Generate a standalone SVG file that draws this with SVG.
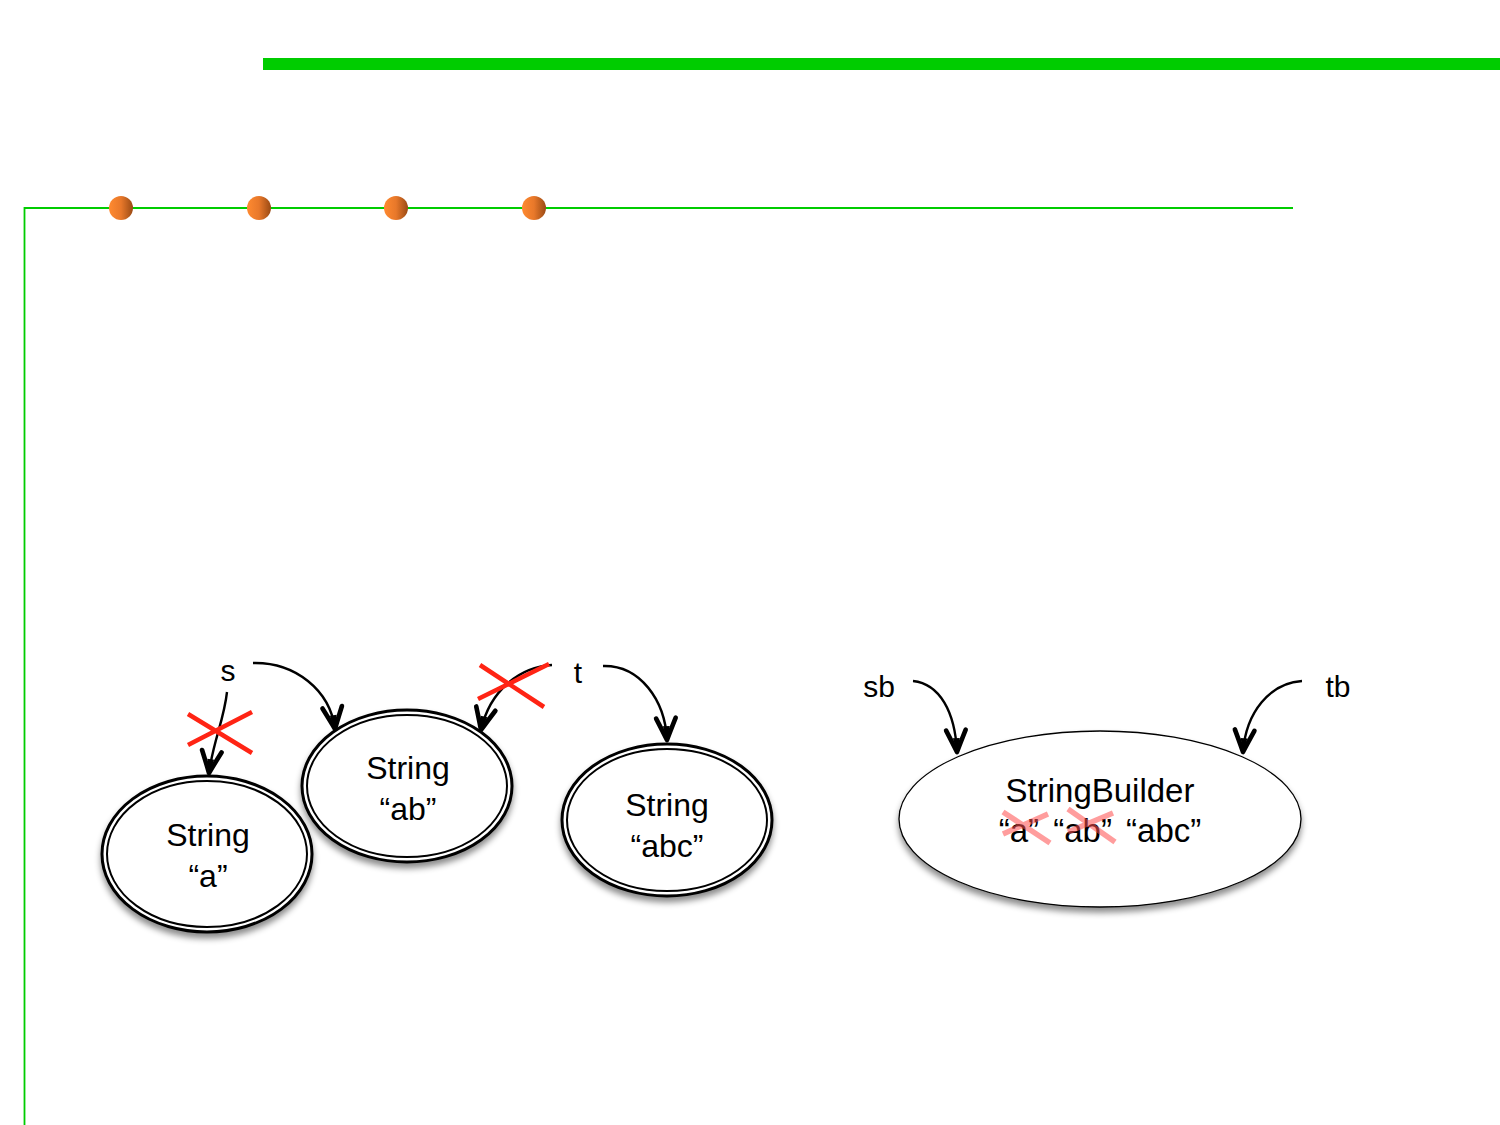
<svg xmlns="http://www.w3.org/2000/svg" width="1500" height="1125" viewBox="0 0 1500 1125">
<defs>
<style>
.t{font-family:"Liberation Sans",Arial,sans-serif;font-size:32px;fill:#000;text-anchor:middle}
.lbl{font-family:"Liberation Sans",Arial,sans-serif;font-size:30px;fill:#000;text-anchor:middle}
.edge{fill:none;stroke:#000;stroke-width:2.4;marker-end:url(#arr)}
.outer{fill:#fff;stroke:#000;stroke-width:3}
.inner{fill:none;stroke:#000;stroke-width:2}
.x{stroke:#ff2414;stroke-width:4.5;fill:none}
.xl{stroke:#ff4d4d;stroke-opacity:0.55;stroke-width:5.5;fill:none}
</style>
<linearGradient id="dot" x1="0" y1="0" x2="1" y2="0">
<stop offset="0" stop-color="#ff8a30"/>
<stop offset="0.5" stop-color="#e8782a"/>
<stop offset="1" stop-color="#9a4a14"/>
</linearGradient>
<filter id="sh" x="-20%" y="-20%" width="140%" height="150%">
<feDropShadow dx="0" dy="5" stdDeviation="3" flood-color="#000" flood-opacity="0.45"/>
</filter>
<marker id="arr" markerUnits="userSpaceOnUse" markerWidth="30" markerHeight="30" viewBox="-22 -12 26 24" refX="0" refY="0" orient="auto">
<path d="M -19 -8.5 Q -7 -3 0 0 Q -7 3 -19 8.5" fill="none" stroke="#000" stroke-width="4" stroke-linecap="round" stroke-linejoin="round"/>
<path d="M -12 -3 L 0 0 L -12 3 Z" fill="#000"/>
</marker>
</defs>
<rect width="1500" height="1125" fill="#fff"/>
<g id="frame">
<rect x="263" y="58" width="1237" height="12" fill="#00cc00"/>
<path d="M 24.5 1125 V 208 H 1293" fill="none" stroke="#00cc00" stroke-width="1.8"/>
<ellipse cx="121" cy="208" rx="12" ry="12" fill="url(#dot)"/>
<ellipse cx="259" cy="208" rx="12" ry="12" fill="url(#dot)"/>
<ellipse cx="396" cy="208" rx="12" ry="12" fill="url(#dot)"/>
<ellipse cx="534" cy="208" rx="12" ry="12" fill="url(#dot)"/>
</g>
<g id="node-a">
<ellipse class="outer" cx="207" cy="854" rx="105" ry="78" filter="url(#sh)"/>
<ellipse class="inner" cx="207" cy="854" rx="100" ry="73"/>
<text class="t" x="208" y="846">String</text>
<text class="t" x="208" y="887">“a”</text>
</g>
<g id="node-ab">
<ellipse class="outer" cx="407" cy="786" rx="105" ry="76" filter="url(#sh)"/>
<ellipse class="inner" cx="407" cy="786" rx="100" ry="71"/>
<text class="t" x="408" y="779">String</text>
<text class="t" x="408" y="820">“ab”</text>
</g>
<g id="node-abc">
<ellipse class="outer" cx="667" cy="820" rx="105" ry="76" filter="url(#sh)"/>
<ellipse class="inner" cx="667" cy="820" rx="100" ry="71"/>
<text class="t" x="667" y="816">String</text>
<text class="t" x="667" y="857">“abc”</text>
</g>
<g id="node-sb">
<ellipse cx="1100" cy="819" rx="201" ry="88" fill="#fff" stroke="#000" stroke-width="1.3" filter="url(#sh)"/>
<text class="t" x="1100" y="802" style="font-size:33px">StringBuilder</text>
<text class="t" x="1100" y="842" style="font-size:33px;word-spacing:5px">“a” “ab” “abc”</text>
<path class="xl" d="M 1003 812 L 1050 843 M 1003 834 L 1048 814 M 1068 809 L 1115 842 M 1068 832 L 1113 813"/>
</g>
<g id="labels">
<text class="lbl" x="228" y="681">s</text>
<text class="lbl" x="578" y="683">t</text>
<text class="lbl" x="879" y="697">sb</text>
<text class="lbl" x="1338" y="697">tb</text>
</g>
<g id="connectors">
<path class="edge" d="M 227 692 C 224 720 213 742 209 773"/>
<path class="edge" d="M 253 663 C 295 662 330 690 335 729"/>
<path class="edge" d="M 552 665 C 520 667 490 690 481 730"/>
<path class="edge" d="M 603 666 C 640 665 665 700 667 740"/>
<path class="edge" d="M 913 681 C 940 684 955 712 957 752"/>
<path class="edge" d="M 1302 681 C 1270 683 1246 712 1243 752"/>
<path class="x" d="M 188 714 L 252 753 M 188 745 L 252 712"/>
<path class="x" d="M 480 665 L 544 707 M 478 699 L 549 664"/>
</g>
</svg>
